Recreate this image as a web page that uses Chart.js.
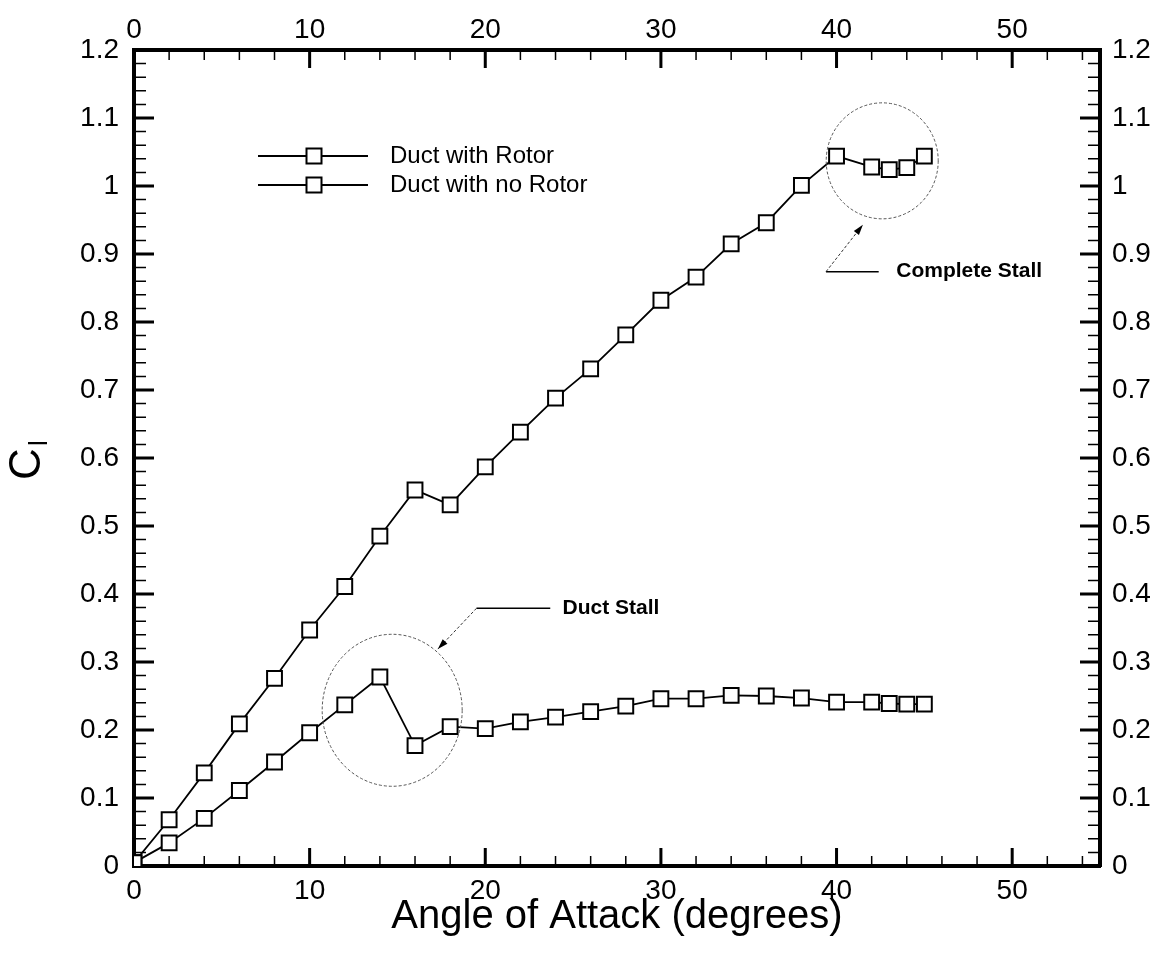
<!DOCTYPE html>
<html>
<head>
<meta charset="utf-8">
<title>Cl vs Angle of Attack</title>
<script src="https://cdn.jsdelivr.net/npm/chart.js@4.4.1/dist/chart.umd.min.js"></script>
<style>
    html, body { margin: 0; padding: 0; background: #fff; }
    canvas { display: block; }
</style>
</head>
<body>
<canvas id="clChart" width="1161" height="963"></canvas>
<script>
// values
const angles = [0, 2, 4, 6, 8, 10, 12, 14, 16, 18, 20, 22, 24, 26, 28, 30, 32, 34, 36, 38, 40, 42, 43, 44, 45];
const withRotor = [0.005, 0.068, 0.137, 0.209, 0.276, 0.347, 0.411, 0.485, 0.553, 0.531, 0.587, 0.638, 0.688,
    0.731, 0.781, 0.832, 0.866, 0.915, 0.946, 1.001, 1.044, 1.028, 1.024, 1.027, 1.044];
const noRotor = [0.005, 0.034, 0.070, 0.111, 0.153, 0.196, 0.237, 0.278, 0.177, 0.205, 0.202, 0.212, 0.219,
    0.227, 0.235, 0.246, 0.246, 0.251, 0.250, 0.247, 0.241, 0.241, 0.239, 0.238, 0.238];
const seriesNames = ['Duct with Rotor', 'Duct with no Rotor'];
const xTicks = [0, 10, 20, 30, 40, 50];
const yTicks = [0, 0.1, 0.2, 0.3, 0.4, 0.5, 0.6, 0.7, 0.8, 0.9, 1, 1.1, 1.2];

const FONT = "'Liberation Sans', Arial, sans-serif";

const pointStyle = {
    fill: false,
    borderColor: '#000',
    borderWidth: 1.8,
    tension: 0,
    pointStyle: 'rect',
    pointRadius: 10.5,
    pointBackgroundColor: '#fff',
    pointBorderColor: '#000',
    pointBorderWidth: 2
};

const data = {
    datasets: [
        Object.assign({
            label: seriesNames[0],
            data: angles.map((a, i) => ({ x: a, y: withRotor[i] }))
        }, pointStyle),
        Object.assign({
            label: seriesNames[1],
            data: angles.map((a, i) => ({ x: a, y: noRotor[i] }))
        }, pointStyle)
    ]
};

function tickAxis(position, ticks, size, padding) {
    return {
        type: 'linear',
        position: position,
        min: 0,
        max: position === 'left' || position === 'right' ? 1.2 : 55,
        afterBuildTicks: s => { s.ticks = ticks.map(v => ({ value: v })); },
        afterFit: s => {
            if (s.isHorizontal()) s.height = size; else s.width = size;
        },
        grid: { display: false, drawTicks: false },
        border: { display: true, color: '#000', width: 4 },
        ticks: {
            autoSkip: false,
            maxRotation: 0,
            padding: padding,
            color: '#000',
            font: { family: FONT, size: 28 },
            callback: v => String(v)
        }
    };
}

const xAxis = tickAxis('bottom', xTicks, 97, 8);
xAxis.title = {
    display: true,
    text: 'Angle of Attack (degrees)',
    color: '#000',
    font: { family: FONT, size: 40 },
    padding: { top: 0, bottom: 22 }
};

// inward ticks on all four sides
const frameTicks = {
    id: 'frameTicks',
    beforeDatasetsDraw(chart) {
        const { ctx, chartArea: a, scales } = chart;
        ctx.save();
        ctx.strokeStyle = '#000';
        for (let i = 0; i <= 60; i++) {
            const major = i % 5 === 0;
            const py = scales.y.getPixelForValue(i / 50);
            const len = major ? 20 : 12;
            ctx.lineWidth = major ? 3 : 1.5;
            ctx.beginPath();
            ctx.moveTo(a.left, py); ctx.lineTo(a.left + len, py);
            ctx.moveTo(a.right, py); ctx.lineTo(a.right - len, py);
            ctx.stroke();
        }
        for (let v = 0; v <= 54; v += 2) {
            const major = v % 10 === 0;
            const px = scales.x.getPixelForValue(v);
            const len = major ? 18 : 10;
            ctx.lineWidth = major ? 3 : 1.5;
            ctx.beginPath();
            ctx.moveTo(px, a.bottom); ctx.lineTo(px, a.bottom - len);
            ctx.moveTo(px, a.top); ctx.lineTo(px, a.top + len);
            ctx.stroke();
        }
        ctx.restore();
    }
};

function drawSquare(ctx, x, y) {
    ctx.fillStyle = '#fff';
    ctx.strokeStyle = '#000';
    ctx.lineWidth = 2;
    ctx.fillRect(x - 7.5, y - 7.5, 15, 15);
    ctx.strokeRect(x - 7.5, y - 7.5, 15, 15);
}

function leader(ctx, from, to, tip) {
    ctx.setLineDash([]);
    ctx.lineWidth = 1.5;
    ctx.strokeStyle = '#000';
    ctx.beginPath();
    ctx.moveTo(from[0], from[1]); ctx.lineTo(to[0], to[1]);
    ctx.stroke();
    ctx.setLineDash([3, 2]);
    ctx.lineWidth = 1;
    ctx.strokeStyle = '#333';
    ctx.beginPath();
    ctx.moveTo(from[0], from[1]); ctx.lineTo(tip[0], tip[1]);
    ctx.stroke();
    ctx.setLineDash([]);
    const ang = Math.atan2(tip[1] - from[1], tip[0] - from[0]);
    ctx.fillStyle = '#000';
    ctx.beginPath();
    ctx.moveTo(tip[0], tip[1]);
    ctx.lineTo(tip[0] - 11 * Math.cos(ang - 0.3), tip[1] - 11 * Math.sin(ang - 0.3));
    ctx.lineTo(tip[0] - 11 * Math.cos(ang + 0.3), tip[1] - 11 * Math.sin(ang + 0.3));
    ctx.closePath();
    ctx.fill();
}

const notes = {
    id: 'notes',
    afterDraw(chart) {
        const { ctx, chartArea: a, scales: { x, y } } = chart;
        const px = v => x.getPixelForValue(v);
        const py = v => y.getPixelForValue(v);
        ctx.save();

        // stall circles
        ctx.strokeStyle = '#555';
        ctx.lineWidth = 1;
        ctx.setLineDash([3, 2]);
        ctx.beginPath();
        ctx.ellipse(px(14.7), py(0.229), 70, 76, 0, 0, 2 * Math.PI);
        ctx.stroke();
        ctx.beginPath();
        ctx.ellipse(px(42.6), py(1.037), 56, 58, 0, 0, 2 * Math.PI);
        ctx.stroke();

        leader(ctx, [px(19.5), py(0.379)], [px(23.7), py(0.379)], [px(17.3), py(0.319)]);
        leader(ctx, [px(39.4), py(0.874)], [px(42.4), py(0.874)], [px(41.5), py(0.943)]);

        ctx.fillStyle = '#000';
        ctx.font = 'bold 21px ' + FONT;
        ctx.textAlign = 'left';
        ctx.textBaseline = 'middle';
        ctx.fillText('Duct Stall', px(24.4), py(0.379));
        ctx.fillText('Complete Stall', px(43.4), py(0.874));

        // legend
        ctx.font = '24px ' + FONT;
        seriesNames.forEach((name, i) => {
            const ly = a.top + 106 + i * 29;
            ctx.strokeStyle = '#000';
            ctx.lineWidth = 1.8;
            ctx.beginPath();
            ctx.moveTo(a.left + 124, ly); ctx.lineTo(a.left + 234, ly);
            ctx.stroke();
            drawSquare(ctx, a.left + 180, ly);
            ctx.fillStyle = '#000';
            ctx.fillText(name, a.left + 256, ly);
        });

        // y title: C with subscript l, rotated
        ctx.translate(28, 464);
        ctx.rotate(-Math.PI / 2);
        ctx.textAlign = 'center';
        ctx.font = '44px ' + FONT;
        ctx.fillText('C', 0, 0);
        ctx.font = '26px ' + FONT;
        ctx.fillText('l', 21, 12);
        ctx.restore();
    }
};

const config = {
    type: 'line',
    data: data,
    options: {
        responsive: false,
        animation: false,
        layout: { padding: 0 },
        plugins: {
            legend: { display: false },
            tooltip: { enabled: false }
        },
        scales: {
            x: xAxis,
            x2: tickAxis('top', xTicks, 50, 3),
            y: tickAxis('left', yTicks, 134, 15),
            y2: tickAxis('right', yTicks, 61, 12)
        }
    },
    plugins: [frameTicks, notes]
};

const ctx = document.getElementById('clChart').getContext('2d');
new Chart(ctx, config);
</script>
</body>
</html>
